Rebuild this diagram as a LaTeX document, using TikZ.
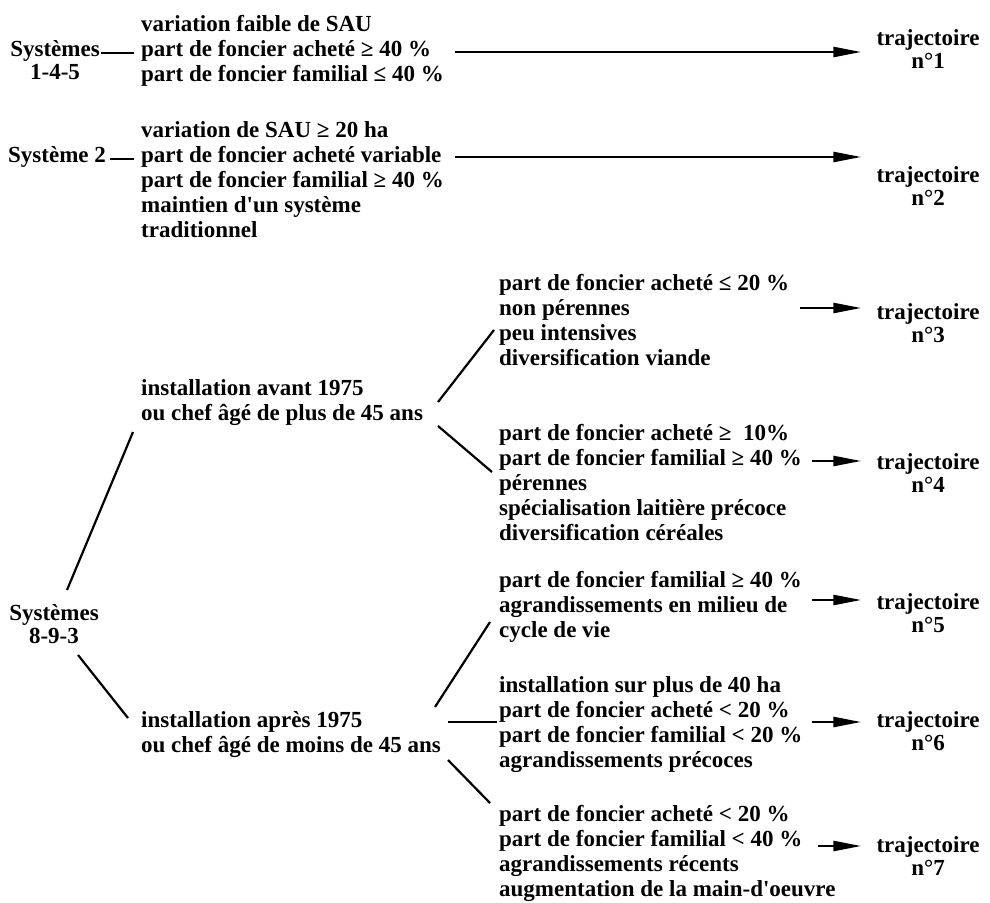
\documentclass[tikz,border=0pt]{standalone}
\usepackage{fontspec}
\setmainfont{Liberation Serif}
\usetikzlibrary{arrows.meta}
\begin{document}
\begin{tikzpicture}[x=1pt,y=-1pt,
  txt/.style={inner sep=0pt, anchor=base west, align=left, font=\fontsize{23}{25}\selectfont\bfseries},
  lbl/.style={inner sep=0pt, anchor=base, align=center, font=\fontsize{23}{23}\selectfont\bfseries},
  conn/.style={line width=2.2pt},
  arr/.style={line width=2.5pt, -{Triangle[length=28pt,width=10pt]}, shorten >=15pt},
]
\useasboundingbox[fill=white] (0,0) rectangle (990,902);
% (base anchors are at the baseline of the LAST line of each node)

% --- block 1
\node[lbl] (s145) at (55,79) {Systèmes\\1-4-5};
\node[txt] (b1) at (141,81) {variation faible de SAU\\part de foncier acheté ≥ 40 \%\\part de foncier familial ≤ 40 \%};
\node[lbl] (t1) at (928,68) {trajectoire\\n°1};
\coordinate (d1a) at (101,53); \coordinate (d1b) at (134,53);
\draw[conn] (d1a) -- (d1b);
\coordinate (a1) at (455,52);
\draw[arr] (a1) -- (a1 -| t1.west);

% --- block 2
\node[txt] (s2) at (8,162) {Système 2};
\node[txt] (b2) at (141,237) {variation de SAU ≥ 20 ha\\part de foncier acheté variable\\part de foncier familial ≥ 40 \%\\maintien d\textquotesingle un système\\traditionnel};
\node[lbl] (t2) at (928,205) {trajectoire\\n°2};
\coordinate (d2a) at (110,159); \coordinate (d2b) at (134,159);
\draw[conn] (d2a) -- (d2b);
\coordinate (a2) at (455,157);
\draw[arr] (a2) -- (a2 -| t2.west);

% --- systems 8-9-3
\node[lbl] (s893) at (54,643) {Systèmes\\8-9-3};
\node[txt] (av) at (141,420) {installation avant 1975\\ou chef âgé de plus de 45 ans};
\node[txt] (ap) at (141,752) {installation après 1975\\ou chef âgé de moins de 45 ans};

\node[txt] (b3) at (499,365) {part de foncier acheté ≤ 20 \%\\non pérennes\\peu intensives\\diversification viande};
\node[lbl] (t3) at (928,342) {trajectoire\\n°3};
\node[txt] (b4) at (499,540) {part de foncier acheté ≥ \ 10\%\\part de foncier familial ≥ 40 \%\\pérennes\\spécialisation laitière précoce\\diversification céréales};
\node[lbl] (t4) at (928,492) {trajectoire\\n°4};
\node[txt] (b5) at (499,637) {part de foncier familial ≥ 40 \%\\agrandissements en milieu de\\cycle de vie};
\node[lbl] (t5) at (928,632) {trajectoire\\n°5};
\node[txt] (b6) at (499,767) {installation sur plus de 40 ha\\part de foncier acheté < 20 \%\\part de foncier familial < 20 \%\\agrandissements précoces};
\node[lbl] (t6) at (928,750) {trajectoire\\n°6};
\node[txt] (b7) at (499,896) {part de foncier acheté < 20 \%\\part de foncier familial < 40 \%\\agrandissements récents\\augmentation de la main-d\textquotesingle oeuvre};
\node[lbl] (t7) at (928,875) {trajectoire\\n°7};

% tree connectors
\coordinate (u1) at (67,590);  \coordinate (u2) at (133,432);
\coordinate (l1) at (78,655);  \coordinate (l2) at (128,718);
\coordinate (v1) at (438,402); \coordinate (v2) at (494,330);
\coordinate (v3) at (438,426); \coordinate (v4) at (492,472);
\coordinate (w1) at (435,707); \coordinate (w2) at (490,622);
\coordinate (w3) at (448,722); \coordinate (w4) at (497,722);
\coordinate (w5) at (448,760); \coordinate (w6) at (490,803);
\draw[conn] (u1) -- (u2);
\draw[conn] (l1) -- (l2);
\draw[conn] (v1) -- (v2);
\draw[conn] (v3) -- (v4);
\draw[conn] (w1) -- (w2);
\draw[conn] (w3) -- (w4);
\draw[conn] (w5) -- (w6);

% short arrows
\coordinate (a3) at (800,308);
\coordinate (a4) at (812,461);
\coordinate (a5) at (812,600);
\coordinate (a6) at (812,722);
\coordinate (a7) at (818,846);
\draw[arr] (a3) -- (a3 -| t3.west);
\draw[arr] (a4) -- (a4 -| t4.west);
\draw[arr] (a5) -- (a5 -| t5.west);
\draw[arr] (a6) -- (a6 -| t6.west);
\draw[arr] (a7) -- (a7 -| t7.west);
\end{tikzpicture}
\end{document}
